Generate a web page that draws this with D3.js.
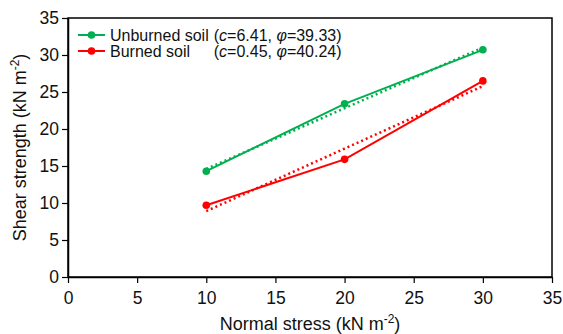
<!DOCTYPE html>
<html>
<head>
<meta charset="utf-8">
<script src="https://cdn.jsdelivr.net/npm/d3@7"></script>
<style>
  body { margin: 0; background: #fff; }
  svg text { font-family: "Liberation Sans", Arial, sans-serif; fill: #111; }
</style>
</head>
<body>
<div id="chart"></div>
<script>
var stress = [10, 20, 30];
var unburned = [14.3, 23.4, 30.7];
var burned = [9.7, 15.9, 26.5];
// dotted fit lines, read at both ends
var fitX = [10, 30];
var unburnedFit = [14.6, 31.0];
var burnedFit = [8.9, 25.8];
var xTicks = [0, 5, 10, 15, 20, 25, 30, 35];
var yTicks = [0, 5, 10, 15, 20, 25, 30, 35];

var SERIES = [
    { name: 'Unburned soil', c: '6.41', phi: '39.33', color: '#00b050', y: unburned, fit: unburnedFit },
    { name: 'Burned soil', c: '0.45', phi: '40.24', color: '#ff0000', y: burned, fit: burnedFit }
];

var W = 563, H = 334,
    m = { left: 68, right: 11, top: 18, bottom: 57 };

var svg = d3.select('#chart').append('svg')
    .attr('width', W)
    .attr('height', H);

var x = d3.scaleLinear().domain([0, 35]).range([m.left, W - m.right]);
var y = d3.scaleLinear().domain([0, 35]).range([H - m.bottom, m.top]);

// frame
svg.append('rect')
    .attr('x', x(0))
    .attr('y', y(35))
    .attr('width', x(35) - x(0))
    .attr('height', y(0) - y(35))
    .attr('fill', 'none')
    .attr('stroke', '#000')
    .attr('stroke-width', 1.5);

var xAxis = svg.append('g')
    .attr('transform', 'translate(0,' + y(0) + ')')
    .call(d3.axisBottom(x).tickValues(xTicks).tickSize(6).tickSizeOuter(0));
var yAxis = svg.append('g')
    .attr('transform', 'translate(' + x(0) + ',0)')
    .call(d3.axisLeft(y).tickValues(yTicks).tickSize(6).tickSizeOuter(0));

[xAxis, yAxis].forEach(function(g) {
    g.select('.domain').attr('stroke-width', 1.5);
    g.selectAll('.tick line').attr('stroke-width', 1.2);
    g.selectAll('.tick text')
        .attr('font-family', '"Liberation Sans", Arial, sans-serif')
        .attr('font-size', 17.5)
        .attr('fill', '#111');
});
xAxis.selectAll('.tick text').attr('dy', '1.0em');
yAxis.selectAll('.tick text').attr('x', -9);

// axis titles
var xt = svg.append('text')
    .attr('x', (x(0) + x(35)) / 2)
    .attr('y', 330)
    .attr('text-anchor', 'middle')
    .attr('font-size', 18);
xt.append('tspan').text('Normal stress (kN m');
xt.append('tspan').attr('dy', -7).attr('font-size', 12).text('-2');
xt.append('tspan').attr('dy', 7).text(')');

var yt = svg.append('text')
    .attr('transform', 'translate(26,' + (y(17.5)) + ') rotate(-90)')
    .attr('text-anchor', 'middle')
    .attr('font-size', 18);
yt.append('tspan').text('Shear strength (kN m');
yt.append('tspan').attr('dy', -7).attr('font-size', 12).text('-2');
yt.append('tspan').attr('dy', 7).text(')');

var line = d3.line()
    .x(function(d) { return x(d[0]); })
    .y(function(d) { return y(d[1]); });

SERIES.forEach(function(s) {
    // fit
    svg.append('path')
        .datum(d3.zip(fitX, s.fit))
        .attr('d', line)
        .attr('fill', 'none')
        .attr('stroke', s.color)
        .attr('stroke-width', 2.5)
        .attr('stroke-dasharray', '2,3');
    // data
    svg.append('path')
        .datum(d3.zip(stress, s.y))
        .attr('d', line)
        .attr('fill', 'none')
        .attr('stroke', s.color)
        .attr('stroke-width', 2);
    svg.selectAll(null)
        .data(d3.zip(stress, s.y))
        .enter()
        .append('circle')
        .attr('cx', function(d) { return x(d[0]); })
        .attr('cy', function(d) { return y(d[1]); })
        .attr('r', 3.8)
        .attr('fill', s.color);
});

// legend
var leg = svg.append('g').attr('class', 'legend');
var parenX = null;
SERIES.forEach(function(s, i) {
    var ly = 35 + i * 16;
    leg.append('line')
        .attr('x1', 78).attr('x2', 105)
        .attr('y1', ly).attr('y2', ly)
        .attr('stroke', s.color)
        .attr('stroke-width', 2);
    leg.append('circle')
        .attr('cx', 91.5).attr('cy', ly).attr('r', 3.8)
        .attr('fill', s.color);
    var nm = leg.append('text')
        .attr('x', 110).attr('y', ly + 5.5)
        .attr('font-size', 16)
        .text(s.name);
    // first row sets where the bracket goes, second row lines up under it
    if (parenX === null) parenX = 110 + nm.node().getComputedTextLength() + 5;
    var t = leg.append('text')
        .attr('x', parenX).attr('y', ly + 5.5)
        .attr('font-size', 16);
    t.append('tspan').text('(');
    t.append('tspan').attr('font-style', 'italic').text('c');
    t.append('tspan').text('=' + s.c + ', ');
    t.append('tspan').attr('font-style', 'italic').text('φ');
    t.append('tspan').text('=' + s.phi + ')');
});
</script>
</body>
</html>
